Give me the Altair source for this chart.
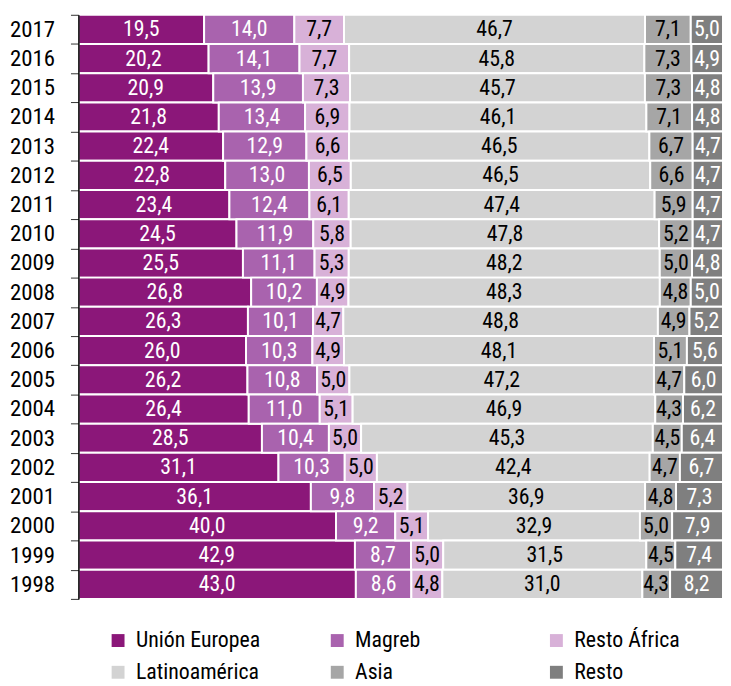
import altair as alt
import pandas as pd

years = list(range(2017, 1997, -1))
categories = ["Unión Europea", "Magreb", "Resto África", "Latinoamérica", "Asia", "Resto"]

ue = [19.5, 20.2, 20.9, 21.8, 22.4, 22.8, 23.4, 24.5, 25.5, 26.8, 26.3, 26.0, 26.2, 26.4, 28.5, 31.1, 36.1, 40.0, 42.9, 43.0]
magreb = [14.0, 14.1, 13.9, 13.4, 12.9, 13.0, 12.4, 11.9, 11.1, 10.2, 10.1, 10.3, 10.8, 11.0, 10.4, 10.3, 9.8, 9.2, 8.7, 8.6]
resto_africa = [7.7, 7.7, 7.3, 6.9, 6.6, 6.5, 6.1, 5.8, 5.3, 4.9, 4.7, 4.9, 5.0, 5.1, 5.0, 5.0, 5.2, 5.1, 5.0, 4.8]
latam = [46.7, 45.8, 45.7, 46.1, 46.5, 46.5, 47.4, 47.8, 48.2, 48.3, 48.8, 48.1, 47.2, 46.9, 45.3, 42.4, 36.9, 32.9, 31.5, 31.0]
asia = [7.1, 7.3, 7.3, 7.1, 6.7, 6.6, 5.9, 5.2, 5.0, 4.8, 4.9, 5.1, 4.7, 4.3, 4.5, 4.7, 4.8, 5.0, 4.5, 4.3]
resto = [5.0, 4.9, 4.8, 4.8, 4.7, 4.7, 4.7, 4.7, 4.8, 5.0, 5.2, 5.6, 6.0, 6.2, 6.4, 6.7, 7.3, 7.9, 7.4, 8.2]

series = [ue, magreb, resto_africa, latam, asia, resto]
colors = ["#8B1779", "#A963AE", "#D8B1D8", "#D3D3D3", "#A6A6A6", "#7F7F7F"]
text_colors = ["white", "white", "black", "black", "black", "white"]

FONT = "Roboto Condensed"

rows = []
for i, y in enumerate(years):
    for k, cat in enumerate(categories):
        rows.append({"year": str(y), "cat": cat, "order": k,
                     "value": series[k][i], "tc": text_colors[k]})
df = pd.DataFrame(rows)

base = alt.Chart(df).transform_stack(
    stack="value", groupby=["year"], as_=["x0", "x1"], offset="normalize",
    sort=[alt.SortField("order", order="ascending")]
).transform_calculate(
    mid="(datum.x0 + datum.x1) / 2",
    label="replace(format(datum.value, '.1f'), '.', ',')"
)

yenc = alt.Y("year:O", sort="descending",
             scale=alt.Scale(paddingInner=0, paddingOuter=0),
             axis=alt.Axis(title=None, labelFont=FONT, labelFontSize=23, labelColor="black",
                           domainColor="black", domainWidth=1.5, tickColor="#333333",
                           tickSize=8, tickBand="extent", labelPadding=16, zindex=1))

xscale = alt.Scale(domain=[0, 1], nice=False, zero=True)

bars = base.mark_bar(stroke="white", strokeWidth=2).encode(
    y=yenc,
    x=alt.X("x0:Q", scale=xscale, axis=None),
    x2="x1:Q",
    color=alt.Color("cat:N", scale=alt.Scale(domain=categories, range=colors),
                    legend=alt.Legend(title=None, orient="none", legendX=29, legendY=620,
                                      direction="horizontal", columns=3, symbolType="square",
                                      symbolSize=169, symbolStrokeWidth=0, labelFont=FONT,
                                      labelFontSize=22, labelColor="black", columnPadding=66,
                                      rowPadding=10, gridAlign="all", labelOffset=7,
                                      symbolOpacity=1)),
    order=alt.Order("order:Q"),
)

texts = base.mark_text(font=FONT, fontSize=22, baseline="middle", align="center").encode(
    y=alt.Y("year:O", sort="descending"),
    x=alt.X("mid:Q", scale=xscale, axis=None),
    text="label:N",
    color=alt.Color("tc:N", scale=None),
)

chart = alt.layer(bars, texts).properties(
    width=650, height=589,
    autosize=alt.AutoSizeParams(type="none"),
    padding={"left": 71, "top": 4, "right": 0, "bottom": 85},
).configure_view(stroke=None)

chart.save("out.html", embed_options={"renderer": "svg", "actions": False})
